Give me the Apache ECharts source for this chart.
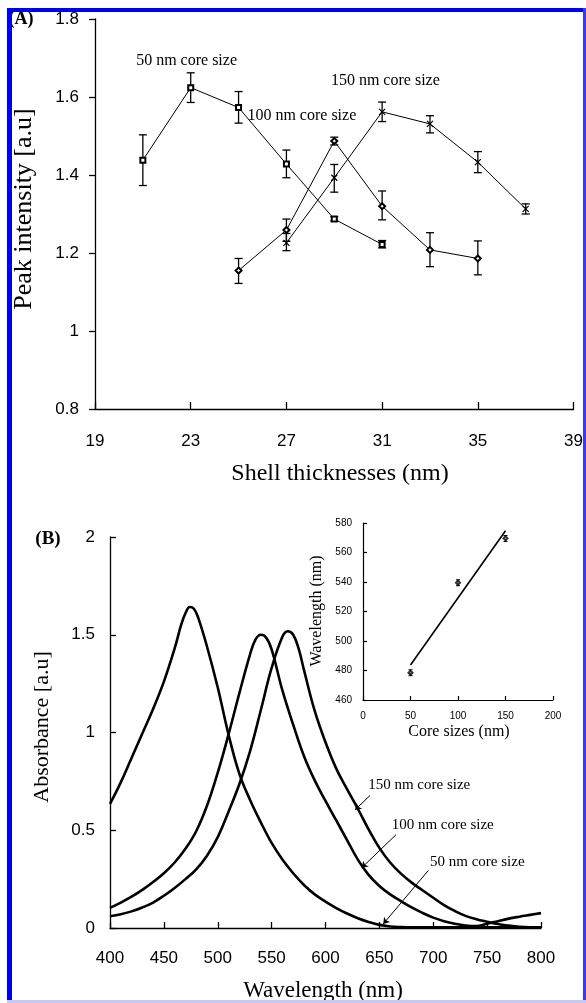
<!DOCTYPE html>
<html>
<head>
<meta charset="utf-8">
<script src="https://cdn.jsdelivr.net/npm/echarts@6/dist/echarts.min.js"></script>
<style>
html, body { margin: 0; padding: 0; background: #fff; }
#chart { width: 586px; height: 1003px; }
</style>
</head>
<body>
<div id="chart"></div>
<script>
// ---- (A) peak intensity vs shell thickness ----
var shell50 = [21, 23, 25, 27, 29, 31];
var peak50 = [1.438, 1.624, 1.573, 1.428, 1.287, 1.222];
var lo50 = [1.373, 1.586, 1.533, 1.393, 1.282, 1.213];
var hi50 = [1.503, 1.662, 1.614, 1.464, 1.293, 1.232];

var shell100 = [25, 27, 29, 31, 33, 35];
var peak100 = [1.155, 1.259, 1.487, 1.320, 1.208, 1.186];
var lo100 = [1.122, 1.230, 1.477, 1.285, 1.165, 1.144];
var hi100 = [1.186, 1.287, 1.497, 1.359, 1.252, 1.231];

var shell150 = [27, 29, 31, 33, 35, 37];
var peak150 = [1.226, 1.393, 1.562, 1.531, 1.433, 1.313];
var lo150 = [1.206, 1.356, 1.537, 1.508, 1.406, 1.300];
var hi150 = [1.250, 1.427, 1.587, 1.552, 1.460, 1.326];

// ---- (B) absorbance spectra [wavelength, absorbance] ----
var spec50 = [[400,0.635],[410,0.745],[420,0.87],[430,0.995],[440,1.12],[450,1.26],[460,1.43],
  [466,1.55],[470,1.61],[474,1.642],[478,1.632],[482,1.585],[490,1.44],[500,1.23],[510,0.99],[520,0.79],[530,0.655],
  [540,0.54],[550,0.435],[560,0.35],[570,0.28],[580,0.22],[590,0.172],[600,0.135],[610,0.102],
  [620,0.074],[630,0.05],[640,0.031],[650,0.016],[660,0.008],[670,0.005],[680,0.004],[700,0.003],
  [720,0.003],[740,0.003],[760,0.003],[780,0.003],[800,0.003]];
var spec100 = [[400,0.103],[410,0.13],[420,0.16],[430,0.195],[440,0.235],[450,0.28],[460,0.335],
  [470,0.405],[480,0.495],[490,0.625],[500,0.795],[510,0.99],[520,1.20],[530,1.40],[535,1.475],
  [540,1.50],[545,1.485],[550,1.425],[560,1.215],[570,1.04],[580,0.88],[590,0.755],[600,0.65],
  [610,0.55],[620,0.45],[630,0.35],[640,0.272],[650,0.215],[660,0.172],[670,0.138],[680,0.105],
  [690,0.077],[700,0.053],[710,0.035],[720,0.022],[730,0.013],[740,0.01],[750,0.022],[760,0.035],
  [770,0.048],[780,0.058],[790,0.067],[800,0.076]];
var spec150 = [[400,0.06],[410,0.07],[420,0.085],[430,0.105],[440,0.13],[450,0.165],[460,0.205],
  [470,0.25],[480,0.30],[490,0.37],[500,0.465],[510,0.595],[520,0.735],[530,0.905],[540,1.115],
  [550,1.33],[560,1.49],[565,1.518],[570,1.50],[575,1.43],[580,1.32],[590,1.11],[600,0.95],
  [610,0.815],[620,0.71],[630,0.61],[640,0.505],[650,0.41],[660,0.335],[670,0.278],[680,0.232],
  [690,0.193],[700,0.155],[710,0.117],[720,0.087],[730,0.062],[740,0.045],[750,0.032],[760,0.02],
  [770,0.012],[780,0.006],[790,0.003],[800,0.002]];

// ---- inset: peak wavelength vs core size ----
var coreSize = [50, 100, 150];
var peakWl = [478.5, 539.5, 569.6];
var peakWlLo = [476.5, 537.5, 567.5];
var peakWlHi = [480.5, 541.5, 571.5];
var fitX = [50, 150];
var fitY = [483.7, 574.7];

var sans = '"Liberation Sans", Arial, sans-serif';
var serif = '"Liberation Serif", "Times New Roman", serif';

function pairs(xs, ys) {
  return xs.map(function (x, i) { return [x, ys[i]]; });
}

function errorBars(axis, xs, lo, hi, cap, width) {
  return {
    type: 'custom',
    xAxisIndex: axis,
    yAxisIndex: axis,
    silent: true,
    z: 3,
    data: xs.map(function (x, i) { return [x, lo[i], hi[i]]; }),
    encode: { x: 0, y: [1, 2] },
    renderItem: function (params, api) {
      var t = api.coord([api.value(0), api.value(2)]);
      var b = api.coord([api.value(0), api.value(1)]);
      function seg(x1, y1, x2, y2) {
        return { type: 'line', shape: { x1: x1, y1: y1, x2: x2, y2: y2 }, style: { stroke: '#000', lineWidth: width } };
      }
      return {
        type: 'group',
        children: [
          seg(t[0], t[1], b[0], b[1]),
          seg(t[0] - cap, t[1], t[0] + cap, t[1]),
          seg(b[0] - cap, b[1], b[0] + cap, b[1])
        ]
      };
    }
  };
}

function valueAxis(grid, min, max, step, o) {
  return {
    type: 'value',
    gridIndex: grid,
    min: min,
    max: max,
    interval: step,
    axisLine: { show: true, onZero: false, lineStyle: { color: '#000', width: o.lw || 1.3 } },
    axisTick: { show: true, inside: o.inside, length: o.tick, lineStyle: { color: '#000', width: o.lw || 1.3 } },
    axisLabel: {
      color: '#000', fontFamily: sans, fontSize: o.fs, margin: o.margin,
      showMaxLabel: true, showMinLabel: true,
      formatter: o.fmt
    },
    splitLine: { show: false }
  };
}

var lineA = { color: '#000', width: 1 };
var lineB = { color: '#000', width: 2.6 };

function spectrum(data, extra) {
  var s = { type: 'line', xAxisIndex: 1, yAxisIndex: 1, data: data, smooth: 0.4,
    showSymbol: false, lineStyle: lineB };
  return Object.assign(s, extra || {});
}

var chart = echarts.init(document.getElementById('chart'));

chart.setOption({
  animation: false,
  backgroundColor: '#fff',
  grid: [
    { left: 95, top: 19, width: 487, height: 390 },
    { left: 110, top: 537, width: 431, height: 391 },
    { left: 363, top: 523, width: 190, height: 177 }
  ],
  xAxis: [
    valueAxis(0, 19, 39, 4, { inside: true, tick: 7, fs: 17, margin: 24 }),
    valueAxis(1, 400, 800, 50, { inside: true, tick: 6, fs: 17, margin: 22 }),
    valueAxis(2, 0, 200, 50, { inside: true, tick: 4, fs: 10, margin: 11, lw: 1.2 })
  ],
  yAxis: [
    valueAxis(0, 0.8, 1.8, 0.2, { inside: false, tick: 6, fs: 17, margin: 16,
      fmt: function (v) { return String(Math.round(v * 10) / 10); } }),
    valueAxis(1, 0, 2, 0.5, { inside: true, tick: 6, fs: 17, margin: 15 }),
    valueAxis(2, 460, 580, 20, { inside: true, tick: 4, fs: 10, margin: 11, lw: 1.2 })
  ],
  series: [
    { type: 'line', xAxisIndex: 0, yAxisIndex: 0, data: pairs(shell50, peak50), lineStyle: lineA,
      symbol: 'emptyRect', symbolSize: 5, itemStyle: { color: '#000', borderWidth: 1 }, z: 4 },
    { type: 'line', xAxisIndex: 0, yAxisIndex: 0, data: pairs(shell100, peak100), lineStyle: lineA,
      symbol: 'emptyDiamond', symbolSize: 6, itemStyle: { color: '#000', borderWidth: 1 }, z: 4 },
    { type: 'line', xAxisIndex: 0, yAxisIndex: 0, data: pairs(shell150, peak150), lineStyle: lineA,
      symbol: 'path://M0,0L10,10M10,0L0,10', symbolSize: 6,
      itemStyle: { color: '#000', borderColor: '#000', borderWidth: 1.2 }, z: 4 },
    errorBars(0, shell50, lo50, hi50, 4, 1.3),
    errorBars(0, shell100, lo100, hi100, 4, 1.3),
    errorBars(0, shell150, lo150, hi150, 4, 1.3),

    spectrum(spec50),
    spectrum(spec100),
    spectrum(spec150, {
      markLine: {
        silent: true, symbol: ['none', 'arrow'], symbolSize: 6,
        lineStyle: { color: '#000', width: 1, type: 'solid' }, label: { show: false },
        data: [
          [{ coord: [641.3, 0.678] }, { coord: [627.4, 0.604] }],
          [{ coord: [665.4, 0.477] }, { coord: [633.6, 0.308] }],
          [{ coord: [695.4, 0.294] }, { coord: [653.6, 0.021] }]
        ]
      }
    }),

    { type: 'line', xAxisIndex: 2, yAxisIndex: 2, data: pairs(fitX, fitY), showSymbol: false,
      lineStyle: { color: '#000', width: 1.6 } },
    { type: 'scatter', xAxisIndex: 2, yAxisIndex: 2, data: pairs(coreSize, peakWl),
      symbol: 'emptyDiamond', symbolSize: 4, itemStyle: { color: '#000', borderWidth: 1 }, z: 4 },
    errorBars(2, coreSize, peakWlLo, peakWlHi, 2, 1)
  ]
});

// annotations placed through the axes
var notes = [
  { grid: 0, at: [20.72, 1.692], text: '50 nm core size', size: 16 },
  { grid: 0, at: [25.37, 1.553], text: '100 nm core size', size: 16 },
  { grid: 0, at: [28.86, 1.641], text: '150 nm core size', size: 16 },
  { grid: 1, at: [639.6, 0.729], text: '150 nm core size', size: 15 },
  { grid: 1, at: [661.4, 0.524], text: '100 nm core size', size: 15 },
  { grid: 1, at: [697.0, 0.337], text: '50 nm core size', size: 15 }
];

function txt(x, y, text, font, rot, align) {
  return {
    type: 'text', x: x, y: y, rotation: rot || 0, z: 10,
    style: {
      text: text, font: font, fill: '#000',
      textAlign: align || 'center', textVerticalAlign: 'middle',
      align: align || 'center', verticalAlign: 'middle'
    }
  };
}

var gfx = notes.map(function (n) {
  var p = chart.convertToPixel({ gridIndex: n.grid }, n.at);
  return txt(p[0], p[1], n.text, n.size + 'px ' + serif, 0, 'left');
});

gfx.push(
  txt(24, 209, 'Peak intensity [a.u]', '26px ' + serif, Math.PI / 2),
  txt(340, 474, 'Shell thicknesses (nm)', '24px ' + serif),
  txt(42, 727, 'Absorbance [a.u]', '22px ' + serif, Math.PI / 2),
  txt(323, 991, 'Wavelength (nm)', '23px ' + serif),
  txt(317, 611, 'Wavelength (nm)', '16px ' + serif, Math.PI / 2),
  txt(459, 732, 'Core sizes (nm)', '16px ' + serif),
  txt(21, 19, '(A)', 'bold 18px ' + serif),
  txt(48, 539, '(B)', 'bold 19px ' + serif),
  // page frame
  { type: 'rect', z: 20, shape: { x: 7, y: 8, width: 579, height: 4 }, style: { fill: '#0000f0' } },
  { type: 'rect', z: 20, shape: { x: 7, y: 8, width: 5, height: 995 }, style: { fill: '#0000f0' } },
  { type: 'rect', z: 20, shape: { x: 583, y: 8, width: 3, height: 995 }, style: { fill: '#3a3ae8' } },
  { type: 'rect', z: 20, shape: { x: 7, y: 1000, width: 579, height: 3 }, style: { fill: '#c8c8f4' } }
);

chart.setOption({ graphic: gfx });
</script>
</body>
</html>
